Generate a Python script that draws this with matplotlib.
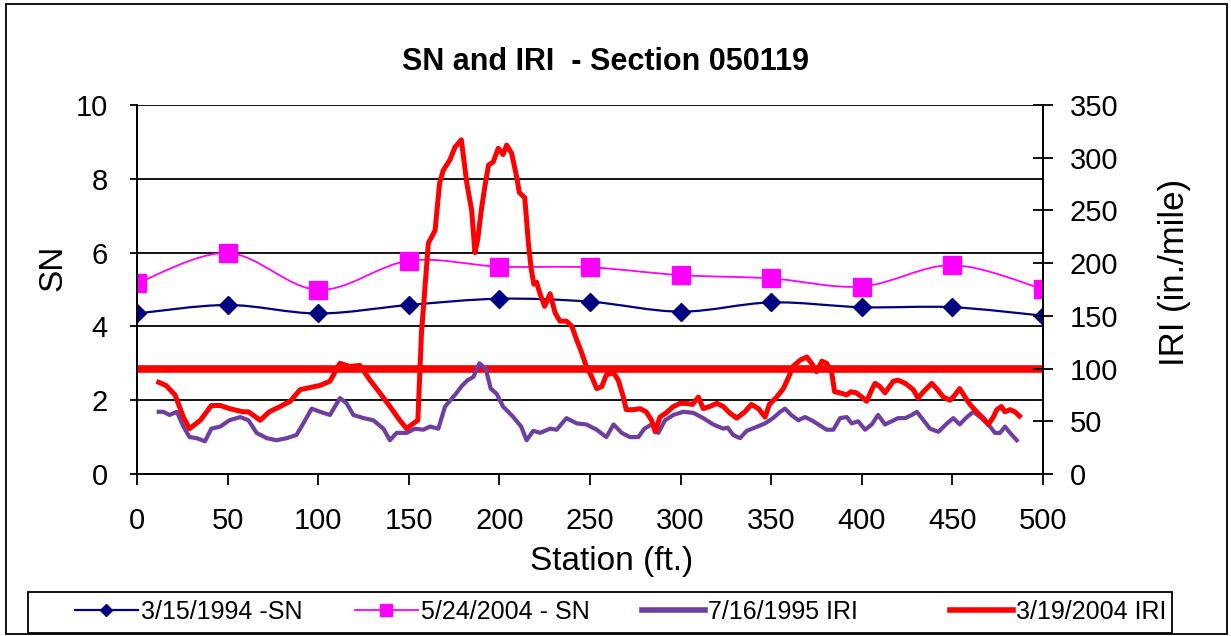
import matplotlib
matplotlib.use("Agg")
import matplotlib.pyplot as plt
from matplotlib.lines import Line2D
from matplotlib.patches import PathPatch, Rectangle
from matplotlib.path import Path

plt.rcParams["font.family"] = ["Liberation Sans", "DejaVu Sans"]

# --- data -------------------------------------------------------------
sn_stations = [0, 50, 100, 150, 200, 250, 300, 350, 400, 450, 500]
sn_1994 = [4.35, 4.58, 4.35, 4.58, 4.75, 4.67, 4.40, 4.65, 4.52, 4.52, 4.29]
sn_2004 = [5.17, 5.99, 4.99, 5.78, 5.62, 5.60, 5.39, 5.30, 5.08, 5.66, 5.01]

iri_1995_st = [12, 14.5, 18, 22, 25.6, 29, 33, 37.5, 41, 46, 51, 57, 61.5, 66,
               71.6, 77, 82.6, 88, 91.8, 96.4, 101, 106.5, 112, 115.7, 119.4,
               125, 130.4, 136, 139.6, 143.3, 148.8, 153.4, 158, 161.7, 166.3,
               170, 173, 176.4, 179, 182.5, 185.6, 189, 192.5, 195.2, 198.5,
               202, 207.7, 212, 215, 218.7, 222.4, 228, 231.6, 237, 242.7, 248,
               253.7, 259, 263, 267.5, 272, 276.7, 280, 284, 287.7, 291.4, 296,
               301.5, 307, 312.5, 318, 323.6, 326, 329, 332.8, 336.5, 341,
               346.6, 351, 355, 357.6, 361, 365, 368.6, 372.3, 376, 380.6,
               384.3, 388, 391.7, 394.4, 398, 401.8, 405.5, 409, 412.8, 416.5,
               420, 424, 427.6, 430.4, 434, 437.6, 442.3, 447, 450.5, 454, 458,
               461.6, 466, 469.8, 473.5, 476.3, 479, 481.8, 485.5]
iri_1995 = [59, 59, 56, 59, 45, 35, 34, 31, 43, 45, 51, 54, 51, 39,
            34, 32, 34, 37, 48, 62, 59, 56, 72, 67, 56,
            53, 51, 43, 32, 39, 39, 43, 42, 45, 43,
            64, 70, 77, 83, 89, 92, 105, 100, 81, 76,
            64, 54, 45, 32, 41, 39, 43, 42, 53, 48, 47,
            42, 35, 47, 39, 35, 35, 43, 47, 39, 51, 56,
            59, 58, 53, 47, 43, 44, 37, 34, 41, 44,
            48, 53, 59, 62, 56, 51, 54, 51, 47, 42,
            42, 53, 54, 48, 50, 42, 47, 56, 47, 50,
            53, 53, 56, 59, 51, 43, 40, 48, 53, 47, 54,
            59, 53, 47, 39, 39, 45, 39, 32]

iri_2004_st = [12, 16, 21, 25.6, 29, 35, 41, 46, 51, 58.6, 61.5, 68, 73, 79,
               84.6, 90, 95.5, 101, 106.5, 112, 117.5, 123, 128.6, 134, 139.6,
               145, 148.8, 152.5, 155, 157, 160.8, 164.5, 167, 169, 172.7,
               175.5, 179, 182, 184.7, 186.5, 188, 190, 192, 194, 196.6, 199.4,
               202, 204, 206.8, 209.5, 211, 214, 216, 217.5, 219, 220.5, 222.4,
               225, 228, 230.7, 233.4, 237, 240, 242.7, 245.4, 248, 251, 253.7,
               256.5, 259, 263, 265.6, 268.4, 270, 274, 277.6, 281, 284, 286,
               288.6, 292, 296, 299.7, 303, 306.6, 309.8, 312.5, 316, 320,
               323.6, 327, 331, 335.5, 339, 343, 346.6, 349, 353, 356.7, 359.4,
               362, 366, 369.6, 372.3, 375, 378, 380.6, 383.4, 385, 388, 391.7,
               394, 397, 400, 402.7, 405.5, 407.3, 410, 412.8, 417.4, 420, 424,
               428.4, 431, 434, 438.6, 441.3, 445, 448.7, 451.4, 454, 457,
               459.7, 463.4, 467, 469.8, 472.6, 474.5, 477, 479, 481.8, 484.5,
               487]
iri_2004 = [87, 84, 75, 54, 43, 51, 65, 65, 62, 59, 59, 51, 59, 64,
            69, 80, 82, 84, 88, 105, 102, 103, 89, 77, 64,
            51, 43, 48, 51, 134, 219, 231, 276, 288, 298,
            310, 317, 276, 250, 210, 222, 250, 273, 293, 296, 309,
            303, 312, 304, 282, 267, 262, 219, 195, 180, 182, 171,
            159, 171, 153, 145, 145, 140, 127, 115, 102, 92, 81,
            83, 94, 96, 89, 73, 61, 61, 62, 59, 51, 40,
            54, 58, 64, 67, 67, 66, 73, 62, 64, 67,
            64, 58, 53, 59, 66, 62, 54, 66, 73, 81, 91,
            102, 108, 111, 105, 97, 107, 105, 96, 78, 77, 75,
            78, 77, 73, 69, 80, 86, 83, 77, 88, 89, 86,
            80, 72, 78, 86, 81, 73, 70, 75, 81, 73,
            66, 59, 53, 47, 54, 61, 64, 59, 61, 59,
            55]

threshold_st = [0, 500]
threshold_iri = [100, 100]

x_ticks = list(range(0, 501, 50))
sn_ticks = list(range(0, 11, 2))
iri_ticks = list(range(0, 351, 50))

legend_labels = ["3/15/1994 -SN", "5/24/2004 - SN", "7/16/1995 IRI",
                 "3/19/2004 IRI"]

NAVY = "#000080"
MAGENTA = "#FF00FF"
PURPLE = "#6F3FA0"
RED = "#FF0000"


def smooth_line(ax, xs, ys, **kw):
    # Excel-style smoothed line: cubic Bezier through the points
    n = len(xs)
    verts = [(xs[0], ys[0])]
    codes = [Path.MOVETO]
    for i in range(n - 1):
        a = max(i - 1, 0)
        d = min(i + 2, n - 1)
        c1 = (xs[i] + (xs[i + 1] - xs[a]) / 6, ys[i] + (ys[i + 1] - ys[a]) / 6)
        c2 = (xs[i + 1] - (xs[d] - xs[i]) / 6, ys[i + 1] - (ys[d] - ys[i]) / 6)
        verts += [c1, c2, (xs[i + 1], ys[i + 1])]
        codes += [Path.CURVE4] * 3
    ax.add_patch(PathPatch(Path(verts, codes), fill=False, **kw))


W, H = 1231, 636
fig = plt.figure(figsize=(W / 100, H / 100), dpi=100)
fig.patch.set_facecolor("white")

ax = fig.add_axes([137 / W, 1 - 474 / H, 906 / W, 369 / H])
ax2 = ax.twinx()

# SN on the left axis
smooth_line(ax, sn_stations, sn_1994, edgecolor=NAVY, linewidth=1.6, zorder=3)
ax.plot(sn_stations, sn_1994, linestyle="none", marker="D", markersize=9,
        color=NAVY, zorder=4)
smooth_line(ax, sn_stations, sn_2004, edgecolor=MAGENTA, linewidth=1.3, zorder=3)
ax.plot(sn_stations, sn_2004, linestyle="none", marker="s", markersize=13,
        color=MAGENTA, zorder=4)

ax.set_xlim(0, 500)
ax.set_ylim(0, 10)
ax.set_xticks(x_ticks)
ax.set_yticks(sn_ticks)
ax.yaxis.grid(True, color="black", linewidth=1.3)
ax.set_axisbelow(True)

# IRI on the right axis
ax2.plot(threshold_st, threshold_iri, color=RED, linewidth=5.5,
         solid_capstyle="butt", zorder=1)
ax2.plot(iri_1995_st, iri_1995, color=PURPLE, linewidth=3, zorder=2)
ax2.plot(iri_2004_st, iri_2004, color=RED, linewidth=3.6, zorder=3)
ax2.set_ylim(0, 350)
ax2.set_yticks(iri_ticks)

for a in (ax, ax2):
    a.spines["top"].set_visible(False)
    for s in a.spines.values():
        s.set_color("black")
        s.set_linewidth(1.3)
ax.tick_params(axis="x", direction="out", length=8, width=1.3, pad=16,
               labelsize=21, colors="black")
ax.tick_params(axis="y", direction="out", length=5, width=1.3, pad=16,
               labelsize=21)
ax2.tick_params(axis="y", direction="inout", length=14, width=1.3, pad=12,
                labelsize=21)

ax.set_ylabel("SN", fontsize=24)
ax.yaxis.set_label_coords(-0.076, 0.56)
ax2.set_ylabel("IRI (in./mile)", fontsize=25)
ax2.yaxis.set_label_coords(1.127, 0.547)
ax.set_xlabel("Station (ft.)", fontsize=24)
ax.xaxis.set_label_coords(0.524, -0.195)

fig.text(605 / W, 1 - 62 / H, "SN and IRI  - Section 050119", ha="center",
         va="center", fontsize=22, fontweight="bold")

# outer chart border and legend box
fig.patches.append(Rectangle((6 / W, 1 - 634 / H), 1221 / W, 630 / H,
                             transform=fig.transFigure, fill=False,
                             edgecolor="black", linewidth=1.3))
fig.patches.append(Rectangle((28 / W, 1 - 633 / H), 1144 / W, 41 / H,
                             transform=fig.transFigure, fill=False,
                             edgecolor="black", linewidth=1.3))

handles = [
    Line2D([], [], color=NAVY, lw=1.6, marker="D", markersize=6),
    Line2D([], [], color=MAGENTA, lw=1.3, marker="s", markersize=8),
    Line2D([], [], color=PURPLE, lw=4),
    Line2D([], [], color=RED, lw=4),
]
legend_x = [75, 355, 642, 950]  # left edge of each legend sample, px
for h, lab, lx in zip(handles, legend_labels, legend_x):
    fig.legend([h], [lab], loc="center left",
               bbox_to_anchor=(lx / W, 1 - 612 / H), frameon=False,
               fontsize=18, handlelength=2.5, handletextpad=0.15,
               borderpad=0, borderaxespad=0)

fig.savefig("out.png", dpi=100)
